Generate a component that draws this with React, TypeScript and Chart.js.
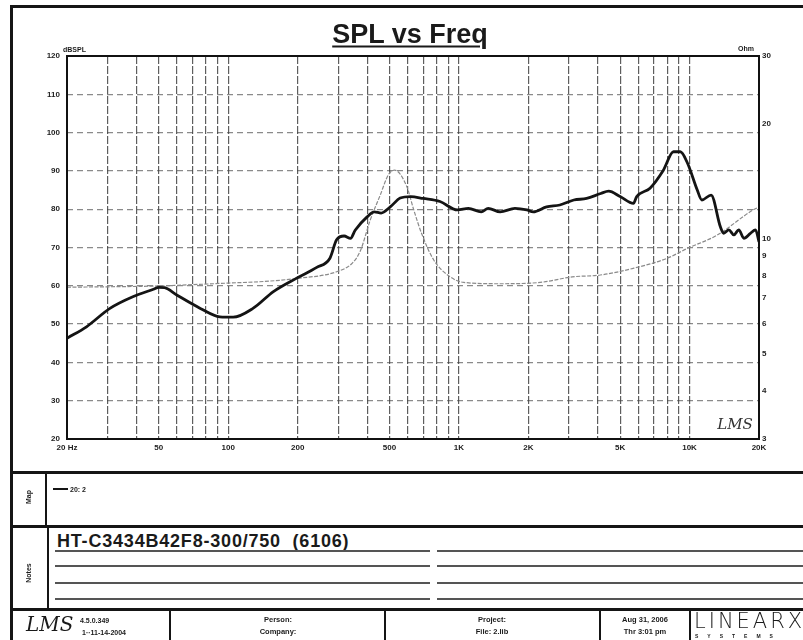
import React, { useEffect, useRef } from "react";
import { Chart, registerables } from "chart.js";

Chart.register(...registerables);

// SPL response (thick black) — frequency in Hz, level in dBSPL
const splFreq = [20, 24.3, 30.7, 38.8, 47.4, 50, 53, 59.8, 75.7, 92, 105, 128, 157, 198, 242, 276, 295, 318, 339, 355, 400, 430, 460, 504, 557, 618, 700, 828, 985, 1100, 1250, 1340, 1510, 1750, 1970, 2100, 2400, 2740, 3150, 3580, 4120, 4460, 5000, 5710, 5900, 6740, 7700, 8520, 9120, 9800, 10800, 11300, 12400, 13600, 14060, 14800, 15560, 16340, 17200, 18360, 19320, 20000];
const splDb = [46.3, 49.3, 54.1, 57.2, 59.1, 59.6, 59.5, 57.6, 54.1, 51.9, 51.8, 54.1, 58.5, 62.0, 64.8, 67.2, 72.0, 73.0, 72.4, 74.5, 78.0, 79.3, 79.0, 80.6, 82.9, 83.3, 82.8, 82.0, 79.8, 80.2, 79.3, 80.2, 79.3, 80.2, 79.8, 79.3, 80.6, 81.1, 82.4, 82.8, 84.1, 84.7, 83.3, 81.5, 83.3, 85.5, 90.2, 95.0, 95.0, 92.0, 85.0, 82.4, 83.7, 75.4, 73.7, 74.6, 73.3, 74.6, 72.4, 73.7, 74.6, 71.5];

// Impedance (thin grey) — frequency in Hz, Ohm
const impFreq = [20, 50, 100, 150, 200, 295, 346, 374, 413, 456, 495, 526, 594, 637, 690, 778, 917, 1050, 1500, 2250, 3100, 4100, 5700, 7950, 9800, 13100, 18900, 20000];
const impOhm = [7.47, 7.53, 7.66, 7.75, 7.88, 8.2, 8.65, 9.3, 11.2, 13.0, 14.7, 15.1, 13.7, 11.9, 10.3, 8.8, 7.95, 7.69, 7.63, 7.69, 7.95, 8.04, 8.37, 8.88, 9.44, 10.2, 11.9, 12.1];

// Axes
const xGridValues = [20, 30, 40, 50, 60, 70, 80, 90, 100, 200, 300, 400, 500, 600, 700, 800, 900, 1000, 2000, 3000, 4000, 5000, 6000, 7000, 8000, 9000, 10000, 20000];
const xLabelValues = [20, 50, 100, 200, 500, 1000, 2000, 5000, 10000, 20000];
const xLabelTexts = ["20 Hz", "50", "100", "200", "500", "1K", "2K", "5K", "10K", "20K"];
const dbTicks = [20, 30, 40, 50, 60, 70, 80, 90, 100, 110, 120];
const ohmTicks = [3, 4, 5, 6, 7, 8, 9, 10, 20, 30];

const FONT = "'Liberation Sans', Arial, sans-serif";

const framePlugin = {
  id: "frame",
  afterDatasetsDraw(chart: any) {
    const { ctx, chartArea } = chart;
    ctx.save();
    ctx.strokeStyle = "#111";
    ctx.lineWidth = 2;
    ctx.strokeRect(chartArea.left, chartArea.top, chartArea.right - chartArea.left, chartArea.bottom - chartArea.top);
    ctx.restore();
  },
};

function T(props: { x: number; y: number; s: number; c?: boolean; w?: any; style?: any; children: any }) {
  const { x, y, s, c, w, style, children } = props;
  return (
    <div
      style={{
        position: "absolute",
        left: x,
        top: y,
        fontSize: s,
        fontWeight: w ?? "bold",
        fontFamily: FONT,
        color: "#1a1a1a",
        whiteSpace: "nowrap",
        lineHeight: 1,
        transform: c ? "translate(-50%, -50%)" : "translateY(-50%)",
        ...style,
      }}
    >
      {children}
    </div>
  );
}

function Line(props: { x: number; y: number; w: number; h: number; c?: string }) {
  return (
    <div style={{ position: "absolute", left: props.x, top: props.y, width: props.w, height: props.h, background: props.c ?? "#151515" }} />
  );
}

export default function App() {
  const ref = useRef<HTMLCanvasElement>(null);

  useEffect(() => {
    if (!ref.current) return;
    const chart = new Chart(ref.current, {
      type: "line",
      data: {
        datasets: [
          {
            label: "SPL",
            data: splFreq.map((f, i) => ({ x: f, y: splDb[i] })),
            borderColor: "#141414",
            borderWidth: 2.8,
            pointRadius: 0,
            cubicInterpolationMode: "monotone",
            yAxisID: "y",
          },
          {
            label: "Impedance",
            data: impFreq.map((f, i) => ({ x: f, y: impOhm[i] })),
            borderColor: "#8a8a8a",
            borderWidth: 1.2,
            borderDash: [4, 1.5],
            pointRadius: 0,
            cubicInterpolationMode: "monotone",
            yAxisID: "y2",
          },
        ],
      },
      options: {
        animation: false,
        responsive: false,
        devicePixelRatio: 1,
        layout: { padding: { left: 30, right: 0, top: 56, bottom: 0 } },
        plugins: { legend: { display: false }, tooltip: { enabled: false }, title: { display: false } },
        scales: {
          x: {
            type: "logarithmic",
            min: 20,
            max: 20000,
            afterBuildTicks: (s: any) => {
              s.ticks = xGridValues.map((v) => ({ value: v }));
            },
            afterFit: (s: any) => {
              s.height = 31;
            },
            ticks: {
              autoSkip: false,
              maxRotation: 0,
              padding: 4,
              color: "#222",
              font: { size: 8, weight: "bold", family: FONT },
              callback: (v: any) => {
                const i = xLabelValues.indexOf(Number(v));
                return i >= 0 ? xLabelTexts[i] : "";
              },
            },
            grid: { color: "rgba(40,40,40,0.75)", lineWidth: 1.2, drawTicks: false },
            border: { display: false, dash: [8, 2] },
          },
          y: {
            type: "linear",
            position: "left",
            min: 20,
            max: 120,
            afterBuildTicks: (s: any) => {
              s.ticks = dbTicks.map((v) => ({ value: v }));
            },
            afterFit: (s: any) => {
              s.width = 37;
            },
            ticks: {
              padding: 7,
              color: "#222",
              font: { size: 8, weight: "bold", family: FONT },
            },
            grid: { color: "rgba(60,60,60,0.6)", lineWidth: 1.2, drawTicks: false },
            border: { display: false, dash: [6, 4] },
          },
          y2: {
            type: "logarithmic",
            position: "right",
            min: 3,
            max: 30,
            afterBuildTicks: (s: any) => {
              s.ticks = ohmTicks.map((v) => ({ value: v }));
            },
            afterFit: (s: any) => {
              s.width = 44;
            },
            ticks: {
              padding: 3,
              color: "#222",
              font: { size: 8, weight: "bold", family: FONT },
              callback: (v: any) => String(v),
            },
            grid: { display: false, drawTicks: false },
            border: { display: false },
          },
        },
      },
      plugins: [framePlugin],
    } as any);
    return () => chart.destroy();
  }, []);

  const noteLineYs = [550, 565, 582, 598];

  return (
    <div style={{ position: "absolute", left: 0, top: 0, width: 803, height: 640, background: "#fff", overflow: "hidden" }}>
      <canvas ref={ref} width={803} height={470} style={{ position: "absolute", left: 0, top: 0, width: 803, height: 470 }} />

      {/* outer frame */}
      <Line x={10} y={5} w={793} h={3} />
      <Line x={10} y={5} w={3} h={635} />

      {/* title */}
      <T x={410} y={34} s={27} c style={{ textDecoration: "underline", textDecorationThickness: 2, textUnderlineOffset: 3 }}>
        SPL vs Freq
      </T>
      <T x={63} y={49} s={7}>dBSPL</T>
      <T x={738} y={48} s={7}>Ohm</T>
      <T x={735} y={424} s={15} w="normal" c style={{ fontStyle: "italic", fontFamily: "'DejaVu Serif', serif", color: "#333" }}>
        LMS
      </T>

      {/* Map section */}
      <Line x={10} y={471} w={793} h={3} />
      <Line x={45} y={473} w={2} h={54} />
      <T x={28} y={497} s={7} c style={{ transform: "translate(-50%, -50%) rotate(-90deg)" }}>Map</T>
      <Line x={53} y={488} w={15} h={2} />
      <T x={70} y={489} s={7}>20: 2</T>

      {/* Notes section */}
      <Line x={10} y={525} w={793} h={3} />
      <Line x={47} y={527} w={2} h={82} />
      <T x={28} y={573} s={7} c style={{ transform: "translate(-50%, -50%) rotate(-90deg)" }}>Notes</T>
      <T x={57} y={541} s={18} style={{ letterSpacing: 0.8 }}>HT-C3434B42F8-300/750&nbsp;&nbsp;(6106)</T>
      {noteLineYs.map((y) => (
        <React.Fragment key={y}>
          <Line x={55} y={y} w={375} h={1.5} c="#555" />
          <Line x={437} y={y} w={366} h={1.5} c="#555" />
        </React.Fragment>
      ))}

      {/* bottom strip */}
      <Line x={10} y={608} w={793} h={3} />
      <Line x={169} y={610} w={2} h={30} />
      <Line x={384} y={610} w={2} h={30} />
      <Line x={599} y={610} w={2} h={30} />
      <Line x={689} y={610} w={2} h={30} />
      <T x={26} y={624} s={20} w="normal" style={{ fontStyle: "italic", fontFamily: "'DejaVu Serif', serif" }}>LMS</T>
      <T x={80} y={620} s={7}>4.5.0.349</T>
      <T x={82} y={632} s={7}>1··11-14-2004</T>
      <T x={278} y={620} s={7.5} c>Person:</T>
      <T x={278} y={632} s={7.5} c>Company:</T>
      <T x={492} y={620} s={7.5} c>Project:</T>
      <T x={492} y={632} s={7.5} c>File: 2.lib</T>
      <T x={645} y={620} s={7.5} c>Aug 31, 2006</T>
      <T x={645} y={632} s={7.5} c>Thr 3:01 pm</T>
      <T x={694} y={621} s={21} w="normal" style={{ letterSpacing: 3, fontFamily: "'DejaVu Sans', sans-serif", fontWeight: 300 }}>LINEARX</T>
      <T x={695} y={636} s={5} style={{ letterSpacing: 9 }}>SYSTEMS</T>
    </div>
  );
}
